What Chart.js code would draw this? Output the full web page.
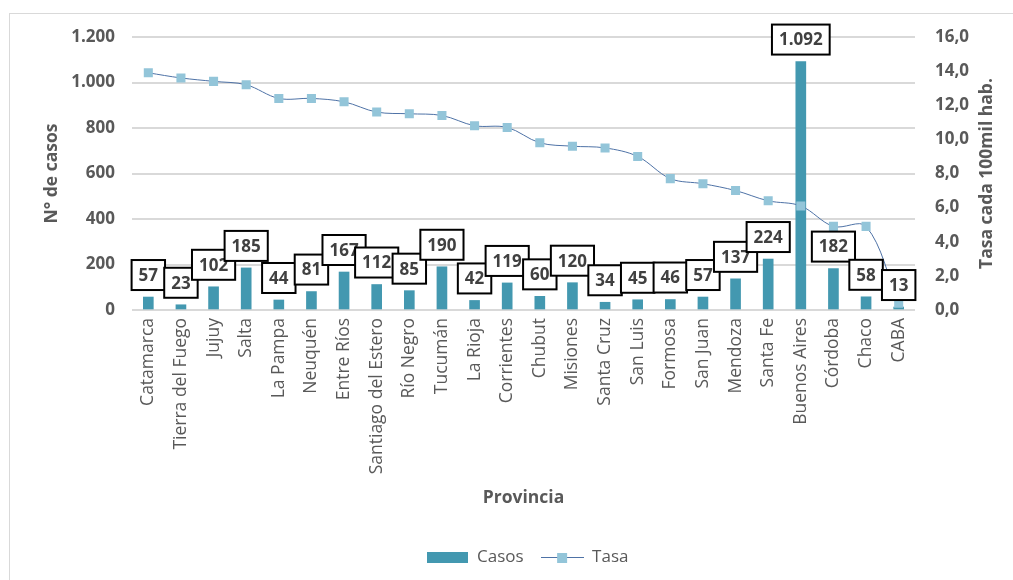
<!DOCTYPE html>
<html>
<head>
<meta charset="utf-8">
<script src="https://cdn.jsdelivr.net/npm/chart.js@4/dist/chart.umd.min.js"></script>
<style>
    html, body { margin: 0; padding: 0; background: #fff; overflow: hidden; }
    #wrap { position: relative; width: 1013px; height: 580px; }
    #frame { position: absolute; left: 9px; top: 13px; width: 1200px; height: 800px; border: 1px solid #d9d9d9; }
    canvas { position: absolute; left: 0; top: 0; }
</style>
</head>
<body>
<div id="wrap">
    <div id="frame"></div>
    <canvas id="provinciaChart" width="1013" height="580"></canvas>
</div>
<script>
// provincias ordenadas por tasa
const provincias = ['Catamarca', 'Tierra del Fuego', 'Jujuy', 'Salta', 'La Pampa', 'Neuquén', 'Entre Ríos',
    'Santiago del Estero', 'Río Negro', 'Tucumán', 'La Rioja', 'Corrientes', 'Chubut', 'Misiones',
    'Santa Cruz', 'San Luis', 'Formosa', 'San Juan', 'Mendoza', 'Santa Fe', 'Buenos Aires', 'Córdoba',
    'Chaco', 'CABA'];
const casos = [57, 23, 102, 185, 44, 81, 167, 112, 85, 190, 42, 119, 60, 120, 34, 45, 46, 57, 137, 224,
    1092, 182, 58, 13];
const tasa = [13.9, 13.6, 13.4, 13.2, 12.4, 12.4, 12.2, 11.6, 11.5, 11.4, 10.8, 10.7, 9.8, 9.6, 9.5, 9.0,
    7.7, 7.4, 7.0, 6.4, 6.1, 4.9, 4.9, 0.4];
const casosTicks = [0, 200, 400, 600, 800, 1000, 1200];
const tasaTicks = [0, 2, 4, 6, 8, 10, 12, 14, 16];

const colorBarra = '#4398B0';
const colorMarcador = '#93C5D9';
const colorLinea = '#4E72A6';
const colorTexto = '#595959';
const fuente = "'Open Sans', 'DejaVu Sans', sans-serif";

// 1092 -> "1.092"
function miles(v) {
    return String(Math.round(v)).replace(/\B(?=(\d{3})+(?!\d))/g, '.');
}

// iconos de la leyenda
function iconoCasos() {
    const c = document.createElement('canvas');
    c.width = 41; c.height = 11;
    const g = c.getContext('2d');
    g.fillStyle = colorBarra;
    g.fillRect(0, 0, 41, 11);
    return c;
}

function iconoTasa() {
    const c = document.createElement('canvas');
    c.width = 43; c.height = 11;
    const g = c.getContext('2d');
    g.strokeStyle = colorLinea;
    g.lineWidth = 1;
    g.beginPath();
    g.moveTo(0, 5.5);
    g.lineTo(43, 5.5);
    g.stroke();
    g.fillStyle = colorMarcador;
    g.fillRect(16, 1, 10, 10);
    return c;
}

// etiquetas con recuadro sobre cada barra
const etiquetasCasos = {
    id: 'etiquetasCasos',
    afterDatasetsDraw(chart) {
        const ctx = chart.ctx;
        const meta = chart.getDatasetMeta(1);
        ctx.save();
        ctx.font = 'bold 17px ' + fuente;
        ctx.textAlign = 'center';
        ctx.textBaseline = 'middle';
        meta.data.forEach((bar, i) => {
            const texto = miles(casos[i]);
            const w = ctx.measureText(texto).width + 14;
            const h = 30;
            const x = bar.x - w / 2;
            const y = bar.y - 7 - h;
            ctx.fillStyle = '#fff';
            ctx.fillRect(x, y, w, h);
            ctx.strokeStyle = '#000';
            ctx.lineWidth = 2;
            ctx.strokeRect(x, y, w, h);
            ctx.fillStyle = '#404040';
            ctx.fillText(texto, bar.x, y + h / 2 + 1);
        });
        ctx.restore();
    }
};

// título del eje derecho, leído de abajo hacia arriba
const tituloDerecho = {
    id: 'tituloDerecho',
    afterDraw(chart) {
        const ctx = chart.ctx;
        const area = chart.chartArea;
        ctx.save();
        ctx.translate(987, (area.top + area.bottom) / 2);
        ctx.rotate(-Math.PI / 2);
        ctx.font = 'bold 17.5px ' + fuente;
        ctx.fillStyle = colorTexto;
        ctx.textAlign = 'center';
        ctx.textBaseline = 'middle';
        ctx.fillText('Tasa cada 100mil hab.', 0, 0);
        ctx.restore();
    }
};

// la leyenda va algo a la derecha del centro
const moverLeyenda = {
    id: 'moverLeyenda',
    afterLayout(chart) {
        chart.legend.left += 21;
        chart.legend.right += 21;
    }
};

const ctx = document.getElementById('provinciaChart').getContext('2d');
new Chart(ctx, {
    data: {
        labels: provincias,
        datasets: [{
            type: 'line',
            label: 'Tasa',
            data: tasa,
            yAxisID: 'yTasa',
            borderColor: colorLinea,
            borderWidth: 1,
            tension: 0.35,
            pointStyle: 'rect',
            pointRadius: 6.4,
            pointBorderWidth: 0,
            pointBackgroundColor: colorMarcador,
            pointBorderColor: colorMarcador,
            order: 0
        }, {
            type: 'bar',
            label: 'Casos',
            data: casos,
            yAxisID: 'yCasos',
            backgroundColor: colorBarra,
            barThickness: 10,
            order: 1
        }]
    },
    options: {
        responsive: false,
        animation: false,
        layout: { padding: { top: 37, right: 0, bottom: 4, left: 0 } },
        plugins: {
            tooltip: { enabled: false },
            legend: {
                position: 'bottom',
                labels: {
                    usePointStyle: true,
                    pointStyleWidth: 42,
                    boxHeight: 11,
                    padding: 18,
                    color: colorTexto,
                    font: { family: fuente, size: 17 },
                    generateLabels(chart) {
                        return [
                            { text: 'Casos', pointStyle: iconoCasos(), datasetIndex: 1, fontColor: colorTexto, lineWidth: 0, strokeStyle: 'transparent' },
                            { text: 'Tasa', pointStyle: iconoTasa(), datasetIndex: 0, fontColor: colorTexto, lineWidth: 0, strokeStyle: 'transparent' }
                        ];
                    }
                }
            }
        },
        scales: {
            x: {
                grid: { display: false, drawTicks: false },
                border: { display: false },
                ticks: {
                    autoSkip: false,
                    maxRotation: 90,
                    minRotation: 90,
                    padding: 8,
                    color: colorTexto,
                    font: { family: fuente, size: 17.5 }
                },
                title: {
                    display: true,
                    text: 'Provincia',
                    color: colorTexto,
                    font: { family: fuente, size: 17.5, weight: 'bold' },
                    padding: { top: 0, bottom: 22 }
                },
                afterFit(scale) { scale.height = 221; }
            },
            yCasos: {
                position: 'left',
                min: 0,
                max: 1200,
                afterBuildTicks(scale) { scale.ticks = casosTicks.map(v => ({ value: v })); },
                grid: { color: '#d9d9d9', lineWidth: 2, drawTicks: false },
                border: { display: false },
                ticks: {
                    padding: 17,
                    color: colorTexto,
                    font: { family: fuente, size: 17, weight: 'bold' },
                    callback: v => miles(v)
                },
                title: {
                    display: true,
                    text: 'N° de casos',
                    color: colorTexto,
                    font: { family: fuente, size: 17.5, weight: 'bold' },
                    padding: { top: 42, bottom: 0 }
                },
                afterFit(scale) { scale.width = 132; }
            },
            yTasa: {
                position: 'right',
                min: 0,
                max: 16,
                afterBuildTicks(scale) { scale.ticks = tasaTicks.map(v => ({ value: v })); },
                grid: { display: false, drawTicks: false },
                border: { display: false },
                ticks: {
                    padding: 20,
                    color: colorTexto,
                    font: { family: fuente, size: 17, weight: 'bold' },
                    callback: v => v.toFixed(1).replace('.', ',')
                },
                afterFit(scale) { scale.width = 98; }
            }
        }
    },
    plugins: [etiquetasCasos, tituloDerecho, moverLeyenda]
});
</script>
</body>
</html>
